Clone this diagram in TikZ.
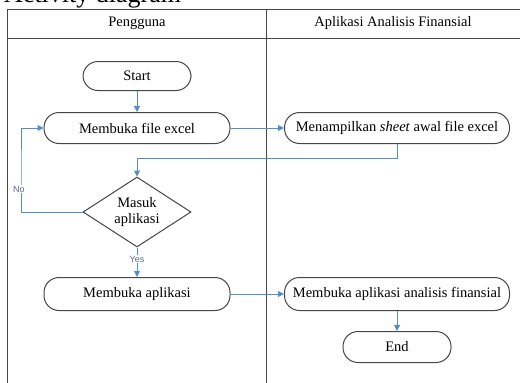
\documentclass[tikz,border=0pt]{standalone}
\usepackage{fontspec}
\setmainfont{Liberation Serif}
\setsansfont{Liberation Sans}
\usepackage{tikz}
\usetikzlibrary{shapes.geometric,arrows.meta}
\definecolor{flowblue}{RGB}{84,141,204}
\definecolor{labelgray}{RGB}{90,105,135}
\definecolor{boxgray}{RGB}{70,70,70}
\newcommand{\boxfont}{\fontsize{14.5}{16}\selectfont}
\newcommand{\guardfont}{\sffamily\fontsize{9}{10}\selectfont}

\begin{document}
\begin{tikzpicture}[x=1pt,y=-1pt,
  act/.style={draw=boxgray,line width=1pt,rounded corners=15pt,minimum height=31pt,inner sep=0pt,font=\boxfont},
  term/.style={act,minimum width=108pt,minimum height=29pt},
  choice/.style={draw=boxgray,line width=1pt,diamond,aspect=1.5,minimum width=108pt,minimum height=70pt,inner sep=0pt,align=center,font=\boxfont},
  flow/.style={draw=flowblue,line width=1pt,-{Triangle[length=6pt,width=6pt]}},
  guard/.style={fill=white,text=labelgray,inner sep=1pt,font=\guardfont}]

\useasboundingbox (0,0) rectangle (520,383);

% caption above the frame (cut off)
\node[anchor=base west,inner sep=0pt,font=\fontsize{26}{28}\selectfont] (caption) at (4,2) {Activity diagram};

% swimlanes
\draw[line width=1pt,draw=boxgray] (7,383) -- (7,9) -- (520,9)
(7,38) -- (520,38)
(266,9) -- (266,383);
\node[font=\boxfont] (lane1) at (137,23) {Pengguna};
\node[font=\boxfont] (lane2) at (393,23) {Aplikasi Analisis Finansial};

% actions
\node[term] (start) at (137,76) {Start};
\node[act,minimum width=186pt] (fileexcel) at (137,128) {Membuka file excel};
\node[act,minimum width=225pt] (sheet) at (397,128) {Menampilkan \textit{sheet} awal file excel};
\node[choice] (masuk) at (137,212) {Masuk\\aplikasi};
\node[act,minimum width=186pt,minimum height=33pt] (aplikasi) at (137,294) {Membuka aplikasi};
\node[act,minimum width=225pt,minimum height=33pt] (finansial) at (397,294) {Membuka aplikasi analisis finansial};
\node[term,minimum height=31pt] (stop) at (397,347) {End};

\coordinate (back) at (267,158);
\coordinate (noline) at (21,170);

\draw[flow] (start) -- (fileexcel);
\draw[flow] (fileexcel) -- (sheet);
\draw[flow] (sheet.south) -- (sheet.south |- back) -| (masuk.north);
\draw[flow] (masuk.west) -| (noline) |- (fileexcel.west);
\draw[flow] (masuk.south) -- (aplikasi.north);
\draw[flow] (aplikasi) -- (finansial);
\draw[flow] (finansial) -- (stop);

\node[guard] (no) at (19,189) {No};
\node[guard] (yes) at (137,259) {Yes};

\end{tikzpicture}
\end{document}
